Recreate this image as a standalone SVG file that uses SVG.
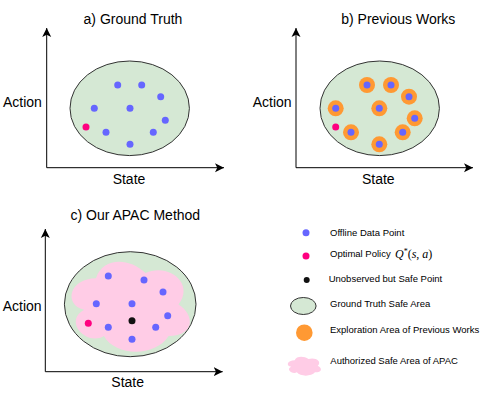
<svg xmlns="http://www.w3.org/2000/svg" width="498" height="399" viewBox="0 0 498 399">
<defs>
<style>
.t{font-family:"Liberation Sans",Arial,sans-serif;font-size:14px;fill:#000}
.lg{font-family:"Liberation Sans",Arial,sans-serif;font-size:9.5px;fill:#000}
.ax{stroke:#000;stroke-width:1;fill:none}
.safe{fill:#d5e8d4;stroke:#333;stroke-width:1}
.data{fill:#6666ff}
.opt{fill:#ff0080}
.unobs{fill:#111}
.expl{fill:#ff9933}
.cloud{fill:#ffcce6}
</style>
<marker id="arr" viewBox="0 0 10 10" refX="10" refY="5" markerWidth="9" markerHeight="10" markerUnits="userSpaceOnUse" orient="auto">
<path d="M0,0 L10,5 L0,10 L2.5,5 Z" fill="#000"/>
</marker>
</defs>
<rect width="498" height="399" fill="#fff"/>

<g id="panel-a">
<text class="t" x="133" y="24" text-anchor="middle">a) Ground Truth</text>
<ellipse class="safe" cx="129.7" cy="108.3" rx="59.7" ry="47.3"/>
<circle class="data" cx="117.7" cy="85" r="3.5"/>
<circle class="data" cx="141.7" cy="85" r="3.5"/>
<circle class="data" cx="160.7" cy="96.7" r="3.5"/>
<circle class="data" cx="94.3" cy="108.3" r="3.5"/>
<circle class="data" cx="130" cy="108.3" r="3.5"/>
<circle class="data" cx="165.3" cy="120.3" r="3.5"/>
<circle class="data" cx="106" cy="132.3" r="3.5"/>
<circle class="data" cx="153.3" cy="132.3" r="3.5"/>
<circle class="data" cx="130" cy="144.3" r="3.5"/>
<circle class="opt" cx="86" cy="127" r="3.5"/>
<text class="t" x="3" y="107.3">Action</text>
<text class="t" x="129" y="184" text-anchor="middle">State</text>
</g>

<g id="panel-b">
<text class="t" x="398.3" y="24" text-anchor="middle">b) Previous Works</text>
<ellipse class="safe" cx="379.7" cy="108.3" rx="59.7" ry="47.3"/>
<circle class="expl" cx="367" cy="85" r="8"/>
<circle class="expl" cx="391" cy="85" r="8"/>
<circle class="expl" cx="409" cy="96.7" r="8"/>
<circle class="expl" cx="335.7" cy="108.3" r="8"/>
<circle class="expl" cx="379.3" cy="108.3" r="8"/>
<circle class="expl" cx="414.7" cy="118.3" r="8"/>
<circle class="expl" cx="351" cy="132.3" r="8"/>
<circle class="expl" cx="402.7" cy="132.3" r="8"/>
<circle class="expl" cx="379.3" cy="144.3" r="8"/>
<circle class="data" cx="367" cy="85" r="3.5"/>
<circle class="data" cx="391" cy="85" r="3.5"/>
<circle class="data" cx="409" cy="96.7" r="3.5"/>
<circle class="data" cx="335.7" cy="108.3" r="3.5"/>
<circle class="data" cx="379.3" cy="108.3" r="3.5"/>
<circle class="data" cx="414.7" cy="118.3" r="3.5"/>
<circle class="data" cx="351" cy="132.3" r="3.5"/>
<circle class="data" cx="402.7" cy="132.3" r="3.5"/>
<circle class="data" cx="379.3" cy="144.3" r="3.5"/>
<circle class="opt" cx="335.7" cy="127" r="3.5"/>
<text class="t" x="252.7" y="107.3">Action</text>
<text class="t" x="378.3" y="184" text-anchor="middle">State</text>
</g>

<g id="panel-c">
<text class="t" x="135.3" y="220" text-anchor="middle">c) Our APAC Method</text>
<ellipse class="safe" cx="130.2" cy="304.2" rx="65.8" ry="52.5"/>
<path class="cloud" d="M96,278.25 C69.6,278.25 63,304.5 84.12,309.75 C63,321.3 86.76,346.5 103.92,336 C115.8,357 155.4,357 168.6,336 C195,336 195,315 178.5,304.5 C195,283.5 168.6,262.5 145.5,273 C129,257.25 102.6,257.25 96,278.25 Z"/>
<circle class="data" cx="108.3" cy="276" r="3.5"/>
<circle class="data" cx="144" cy="280" r="3.5"/>
<circle class="data" cx="163" cy="292" r="3.5"/>
<circle class="data" cx="96.3" cy="303.7" r="3.5"/>
<circle class="data" cx="132" cy="303.7" r="3.5"/>
<circle class="data" cx="167.7" cy="315.7" r="3.5"/>
<circle class="data" cx="108.3" cy="327.3" r="3.5"/>
<circle class="data" cx="155.7" cy="327.3" r="3.5"/>
<circle class="data" cx="132" cy="339.3" r="3.5"/>
<circle class="opt" cx="88.3" cy="323.3" r="3.5"/>
<circle class="unobs" cx="132" cy="320.7" r="3.5"/>
<text class="t" x="2.7" y="310.7">Action</text>
<text class="t" x="127.7" y="386.5" text-anchor="middle">State</text>
</g>

<g id="connectors">
<path class="ax" d="M46.7,167.7 V28" marker-end="url(#arr)"/>
<path class="ax" d="M46.7,167.7 H224" marker-end="url(#arr)"/>
<path class="ax" d="M296,167.7 V28" marker-end="url(#arr)"/>
<path class="ax" d="M296,167.7 H473" marker-end="url(#arr)"/>
<path class="ax" d="M45.3,371.7 V229" marker-end="url(#arr)"/>
<path class="ax" d="M45.3,371.7 H222.7" marker-end="url(#arr)"/>
</g>

<g id="legend">
<g id="legend-data">
<circle class="data" cx="306" cy="232.7" r="3.5"/>
<text class="lg" x="330" y="235.5">Offline Data Point</text>
</g>
<g id="legend-opt">
<circle class="opt" cx="306" cy="256" r="3.5"/>
<text class="lg" x="330" y="257">Optimal Policy</text>
<text x="395" y="257.5" font-family="'Liberation Serif','Times New Roman',serif" font-size="12"><tspan font-style="italic">Q</tspan><tspan dy="-4" font-size="8">*</tspan><tspan dy="4">(</tspan><tspan font-style="italic">s</tspan>, <tspan font-style="italic">a</tspan>)</text>
</g>
<g id="legend-unobs">
<circle class="unobs" cx="306.7" cy="280" r="3"/>
<text class="lg" x="328.7" y="281.7">Unobserved but Safe Point</text>
</g>
<g id="legend-safe">
<ellipse class="safe" cx="303.3" cy="306" rx="12.8" ry="8.5" stroke-width="1.3"/>
<text class="lg" x="330" y="307.3">Ground Truth Safe Area</text>
</g>
<g id="legend-expl">
<circle class="expl" cx="304.3" cy="332.7" r="8.3"/>
<text class="lg" x="330" y="333.3">Exploration Area of Previous Works</text>
</g>
<g id="legend-cloud">
<path class="cloud" d="M294.65,360.15 C287.25,360.15 285.4,365.7 291.32,366.81 C285.4,369.25 292.06,374.58 296.87,372.36 C300.2,376.8 311.3,376.8 315,372.36 C322.4,372.36 322.4,367.92 317.78,365.7 C322.4,361.26 315,356.82 308.53,359.04 C303.9,355.71 296.5,355.71 294.65,360.15 Z"/>
<text class="lg" x="330.3" y="364.3">Authorized Safe Area of APAC</text>
</g>
</g>
</svg>
